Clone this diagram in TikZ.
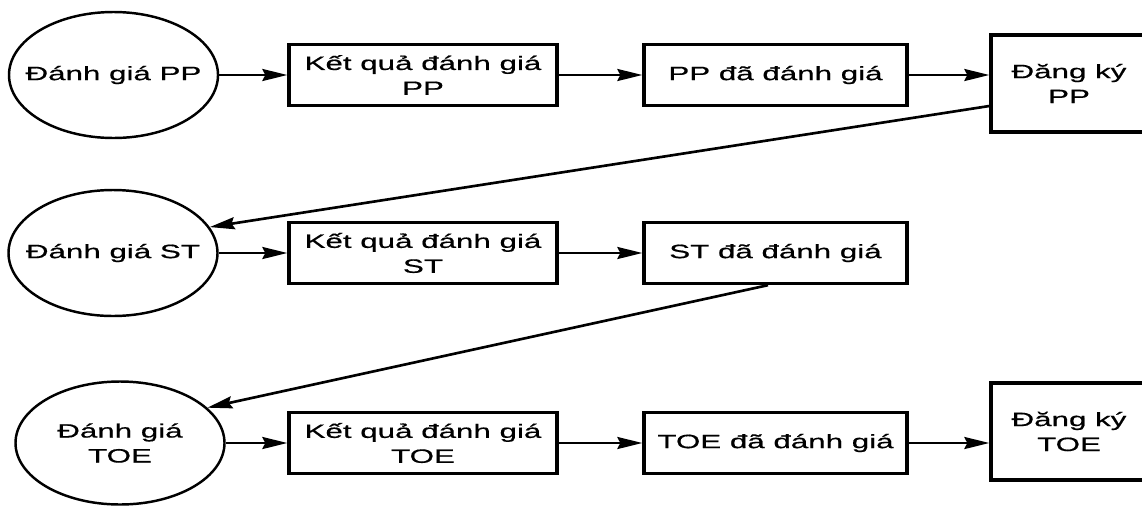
\documentclass[tikz,border=0pt]{standalone}
\usepackage{fontspec}
\setmainfont{Liberation Sans}[FakeStretch=1.62, FakeBold=0.6]
\usetikzlibrary{arrows.meta, shapes.geometric}

\begin{document}
\begin{tikzpicture}[
    >={Stealth[length=5mm, width=2.4mm, inset=0.6mm]},
    font=\fontsize{11}{14.2}\selectfont,
    evalnode/.style={ellipse, draw, line width=1.4pt, minimum width=4.18cm,
      minimum height=2.52cm, inner xsep=-4mm, inner ysep=0pt, align=center},
    resbox/.style={rectangle, draw, line width=1.9pt, minimum width=5.36cm,
      minimum height=1.22cm, inner sep=0pt, align=center},
    donebox/.style={resbox, minimum width=5.26cm},
    regbox/.style={resbox, minimum width=3.12cm, minimum height=1.94cm},
    flow/.style={->, line width=1.5pt}
  ]
  \useasboundingbox (0, 0) rectangle (22.84, -10.10);

  % PP
  \node[evalnode] (evalPP) at (2.27, -1.50) {Đánh giá PP};
  \node[resbox] (resPP) at (8.46, -1.50) {Kết quả đánh giá\\PP};
  \node[donebox] (donePP) at (15.51, -1.50) {PP đã đánh giá};
  \node[regbox] (regPP) at (21.38, -1.67) {Đăng ký\\PP};

  % ST
  \node[evalnode] (evalST) at (2.26, -5.06) {Đánh giá ST};
  \node[resbox] (resST) at (8.46, -5.06) {Kết quả đánh giá\\ST};
  \node[donebox] (doneST) at (15.51, -5.06) {ST đã đánh giá};

  % TOE
  \node[evalnode, minimum height=2.46cm] (evalTOE) at (2.40, -8.86) {Đánh giá\\TOE};
  \node[resbox] (resTOE) at (8.46, -8.86) {Kết quả đánh giá\\TOE};
  \node[donebox] (doneTOE) at (15.51, -8.86) {TOE đã đánh giá};
  \node[regbox] (regTOE) at (21.38, -8.63) {Đăng ký\\TOE};

  \draw[flow] (evalPP) -- (resPP);
  \draw[flow] (resPP) -- (donePP);
  \draw[flow] (donePP.east) -- (donePP.east -| regPP.west);

  \draw[flow] ([yshift=-4.5mm]regPP.west) -- (evalST.15);
  \draw[flow] (evalST) -- (resST);
  \draw[flow] (resST) -- (doneST);

  \draw[flow] ([xshift=-1.5mm]doneST.south) -- (evalTOE.22);
  \draw[flow] (evalTOE) -- (resTOE);
  \draw[flow] (resTOE) -- (doneTOE);
  \draw[flow] (doneTOE.east) -- (doneTOE.east -| regTOE.west);
\end{tikzpicture}
\end{document}
